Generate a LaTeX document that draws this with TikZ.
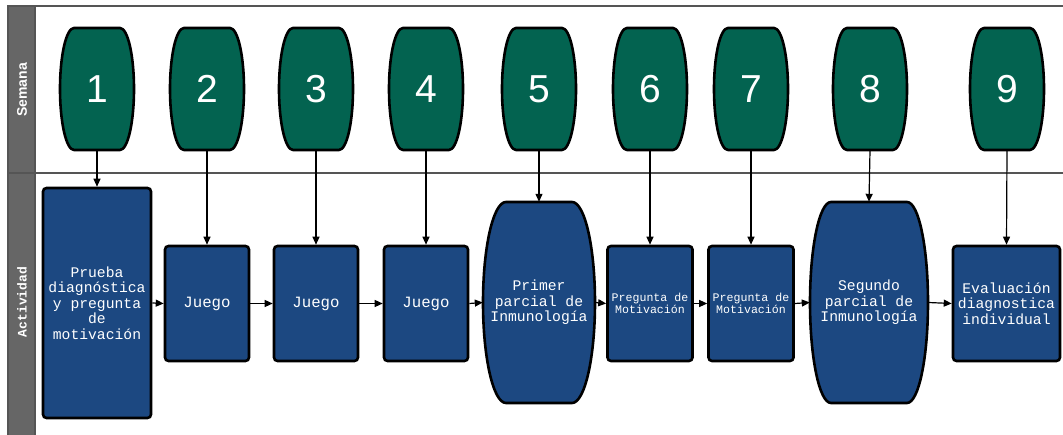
\documentclass[tikz,border=0pt]{standalone}
\usepackage{fontspec}
\usetikzlibrary{arrows.meta}
\newfontfamily\monof{Liberation Mono}
\newfontfamily\sansf{Liberation Sans}
\definecolor{wkgreen}{HTML}{036350}
\definecolor{wkblue}{HTML}{1C4881}
\definecolor{lanegray}{HTML}{666666}
\definecolor{lineg}{HTML}{555555}
\tikzset{
  shapeline/.style={line width=2.6pt, draw=black, line join=round},
  weekbox/.style={draw=none, minimum width=74pt, minimum height=122pt, inner sep=0pt,
     text=white, font=\sansf\fontsize{39}{39}\selectfont},
  actbox/.style={draw=black, line width=2.6pt, fill=wkblue, rounded corners=3.5pt, inner sep=0pt,
     text=white, align=center, font=\monof\fontsize{14.7}{15.5}\selectfont},
  actbarrel/.style={draw=none, inner sep=0pt, text=white, align=center,
     font=\monof\fontsize{14.7}{15.5}\selectfont},
  conn/.style={line width=1.2pt, draw=black, -{Triangle[length=8pt,width=7pt]}},
  lanelabel/.style={rotate=90, text=white},
}
% #1 cx, #2 cy, #3 half flat, #4 half wide, #5 half height, #6 fill
\newcommand\barrelshape[6]{%
  \path[shapeline, fill=#6]
    ({#1-#3},{#2-#5}) -- ({#1+#3},{#2-#5})
    .. controls ({#1+#3+0.552*(#4-#3)},{#2-#5}) and ({#1+#4},{#2-0.552*#5}) .. ({#1+#4},{#2})
    .. controls ({#1+#4},{#2+0.552*#5}) and ({#1+#3+0.552*(#4-#3)},{#2+#5}) .. ({#1+#3},{#2+#5})
    -- ({#1-#3},{#2+#5})
    .. controls ({#1-#3-0.552*(#4-#3)},{#2+#5}) and ({#1-#4},{#2+0.552*#5}) .. ({#1-#4},{#2})
    .. controls ({#1-#4},{#2-0.552*#5}) and ({#1-#3-0.552*(#4-#3)},{#2-#5}) .. cycle;}
\begin{document}
\begin{tikzpicture}[x=1pt,y=-1pt]
\useasboundingbox (0,0) rectangle (1063,435);
% lanes
\fill[white] (0,0) rectangle (1063,435);
\draw[lineg, line width=1.3pt] (8,6) -- (1070,6);
\draw[lineg, line width=1.3pt] (8,173) -- (1070,173);
\draw[lineg, line width=1.3pt, fill=lanegray] (8,445) -- (8,6) -- (35,6) -- (35,445);
\draw[lineg, line width=1.3pt] (8,173) -- (35,173);
\node[lanelabel, font=\sansf\bfseries\fontsize{14}{14}\selectfont] (lsem) at (22,90) {Semana};
\node[lanelabel, font=\monof\bfseries\fontsize{13}{13}\selectfont] (lact) at (22,302) {Actividad};
% week barrels
\foreach \n/\cx in {1/97,2/207,3/316,4/426,5/539,6/650,7/751,8/870,9/1007}{
  \barrelshape{\cx}{89}{23}{37}{61}{wkgreen}
  \node[weekbox] (w\n) at (\cx,89) {\n};
}
% activities
\node[actbox, minimum width=108pt, minimum height=230pt] (a1) at (97,303)
  {Prueba\\diagnóstica\\y pregunta\\de\\motivación};
\node[actbox, minimum width=84pt, minimum height=115pt, font=\monof\fontsize{15.7}{16}\selectfont] (a2) at (207,303.5) {Juego};
\node[actbox, minimum width=84pt, minimum height=115pt, font=\monof\fontsize{15.7}{16}\selectfont] (a3) at (316,303.5) {Juego};
\node[actbox, minimum width=84pt, minimum height=115pt, font=\monof\fontsize{15.7}{16}\selectfont] (a4) at (426,303.5) {Juego};
\barrelshape{539}{302.5}{33}{56}{100.5}{wkblue}
\node[actbarrel, minimum width=112pt, minimum height=201pt] (a5) at (539,302.5)
  {Primer\\parcial de\\Inmunología};
\node[actbox, minimum width=85pt, minimum height=115pt, font=\monof\fontsize{11.6}{12.5}\selectfont] (a6) at (650,303.5)
  {Pregunta de\\Motivación};
\node[actbox, minimum width=85pt, minimum height=115pt, font=\monof\fontsize{11.6}{12.5}\selectfont] (a7) at (751,303.5)
  {Pregunta de\\Motivación};
\barrelshape{869}{302.5}{38}{59}{100.5}{wkblue}
\node[actbarrel, minimum width=118pt, minimum height=201pt] (a8) at (869,302.5)
  {Segundo\\parcial de\\Inmunología};
\node[actbox, minimum width=107pt, minimum height=115pt] (a9) at (1006.5,303.5)
  {Evaluación\\diagnostica\\individual};
% connectors
\foreach \i in {1,...,9}{ \draw[conn] (w\i.south) -- (a\i.north); }
\foreach \i/\j in {1/2,2/3,3/4,4/5,5/6,6/7,7/8,8/9}{ \draw[conn] (a\i.east) -- (a\j.west); }
\end{tikzpicture}
\end{document}
